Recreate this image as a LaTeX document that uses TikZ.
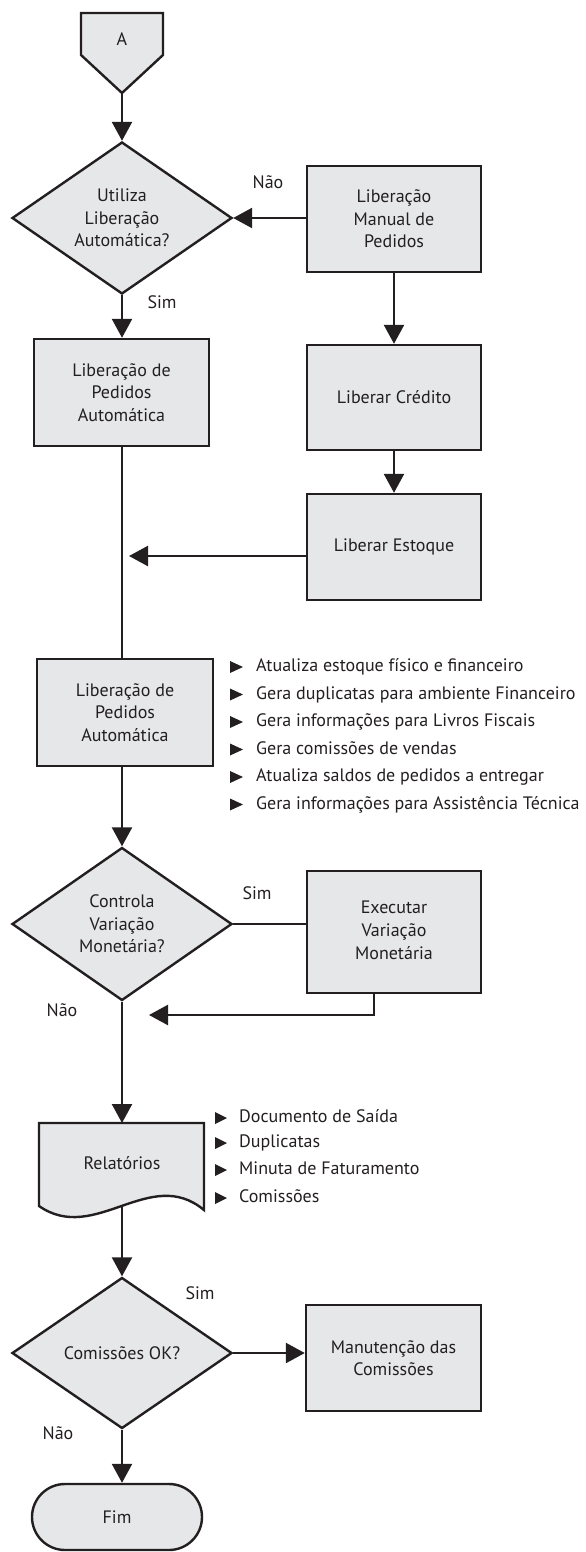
\documentclass[tikz,border=0pt]{standalone}
\usepackage{fontspec}
\setmainfont{PT Sans}
\usetikzlibrary{shapes.geometric,arrows.meta}
\definecolor{fillg}{HTML}{E6E7E8}
\definecolor{ink}{HTML}{231F20}
\begin{document}
\begin{tikzpicture}[x=1pt,y=-1pt,
  font=\fontsize{18}{22.5}\selectfont, text=ink,
  box/.style={draw=ink, fill=fillg, line width=2.4pt, align=center, inner sep=0pt},
  dia/.style={diamond, draw=ink, fill=fillg, line width=2.4pt, align=center, inner sep=0pt, minimum width=220pt, minimum height=152pt, aspect=1.45},
  flow/.style={draw=ink, line width=2.4pt},
  arr/.style={flow, -{Triangle[length=19pt,width=20pt]}},
  lbl/.style={inner sep=0pt},
  item/.style={anchor=west, inner sep=0pt, text height=13pt, text depth=4pt},
]
\useasboundingbox (0,0) rectangle (586,1552);

% connector A
\draw[flow, fill=fillg, line join=miter] (81,13) -- (163,13) -- (163,55) -- (122,93) -- (81,55) -- cycle;
\node (A) at (122,39) {A};
\coordinate (Atip) at (122,93);

% nodes
\node[dia] (d1) at (122,218) {Utiliza\\Liberação\\Automática?};
\node[box, minimum width=174pt, minimum height=106pt] (man) at (394,219) {Liberação\\Manual de\\Pedidos};
\node[box, minimum width=175pt, minimum height=107pt] (b1) at (121.5,392.5) {Liberação de\\Pedidos\\Automática};
\node[box, minimum width=174pt, minimum height=105pt] (cred) at (394,397.5) {Liberar Crédito};
\node[box, minimum width=174pt, minimum height=106pt] (est) at (394,547) {Liberar Estoque};
\node[box, minimum width=176pt, minimum height=107pt] (b2) at (125,712.5) {Liberação de\\Pedidos\\Automática};
\node[dia, minimum height=153pt] (d2) at (122,924) {Controla\\Variação\\Monetária?};
\node[box, minimum width=174pt, minimum height=122pt] (exe) at (394,932) {\raisebox{-11pt}{\begin{tabular}{@{}c@{}}Executar\\[0.5pt] Variação\\[0.5pt] Monetária\end{tabular}}};

% document shape
\draw[flow, fill=fillg] (39,1206) -- (39,1123) -- (204,1123) -- (204,1210) .. controls (150,1165) and (95,1245) .. (39,1206) -- cycle;
\node (rel) at (122,1163) {Relatórios};
\coordinate (reltop) at (122,1123);
\coordinate (relbot) at (122,1206);

\node[dia, minimum height=151pt] (d3) at (122,1353) {Comissões OK?};
\node[box, minimum width=175pt, minimum height=106pt] (mc) at (393.5,1358) {Manutenção das\\Comissões};
\node[box, rounded corners=33pt, minimum width=170pt, minimum height=66pt] (fim) at (117,1517) {Fim};

% connectors
\draw[arr] (Atip) -- (d1.north);
\draw[arr] (man.west |- d1.east) -- (d1.east);
\draw[arr] (d1.south) -- (d1.south |- b1.north);
\draw[arr] (man.south) -- (cred.north);
\draw[arr] (cred.south) -- (est.north);
\draw[flow] (d1.south |- b1.south) -- (d1.south |- b2.north);
\coordinate (estin) at (129,556);
\draw[arr] (est.west |- estin) -- (estin);
\draw[arr] (d2.north |- b2.south) -- (d2.north);
\draw[flow] (d2.east) -- (exe.west |- d2.east);
\coordinate (exbot) at (374,993);
\coordinate (ret) at (149,1015);
\draw[arr] (exbot) |- (ret);
\draw[arr] (d2.south) -- (reltop);
\draw[arr] (relbot) -- (d3.north);
\draw[arr] (d3.east) -- (mc.west |- d3.east);
\draw[arr] (d3.south) -- (d3.south |- fim.north);

% labels
\node[lbl] (n1) at (268,182) {Não};
\node[lbl] (s1) at (162,302) {Sim};
\node[lbl] (s2) at (257,893) {Sim};
\node[lbl] (n2) at (62,1010) {Não};
\node[lbl] (s3) at (200,1293) {Sim};
\node[lbl] (n3) at (58,1433) {Não};

% bullet lists
\foreach \y/\t [count=\i] in {667/Atualiza estoque físico e financeiro, 694.5/Gera duplicatas para ambiente Financeiro, 722/Gera informações para Livros Fiscais, 749.5/Gera comissões de vendas, 777/Atualiza saldos de pedidos a entregar, 804.5/Gera informações para Assistência Técnica}{
  \fill[ink] (230,{\y-6}) -- (243,\y) -- (230,{\y+6}) -- cycle;
  \node[item] (ba\i) at (256,\y) {\t};
}
\foreach \y/\t [count=\i] in {1118/Documento de Saída, 1143/Duplicatas, 1170/Minuta de Faturamento, 1198/Comissões}{
  \fill[ink] (215,{\y-6}) -- (227,\y) -- (215,{\y+6}) -- cycle;
  \node[item] (bb\i) at (239,\y) {\t};
}
\end{tikzpicture}
\end{document}
